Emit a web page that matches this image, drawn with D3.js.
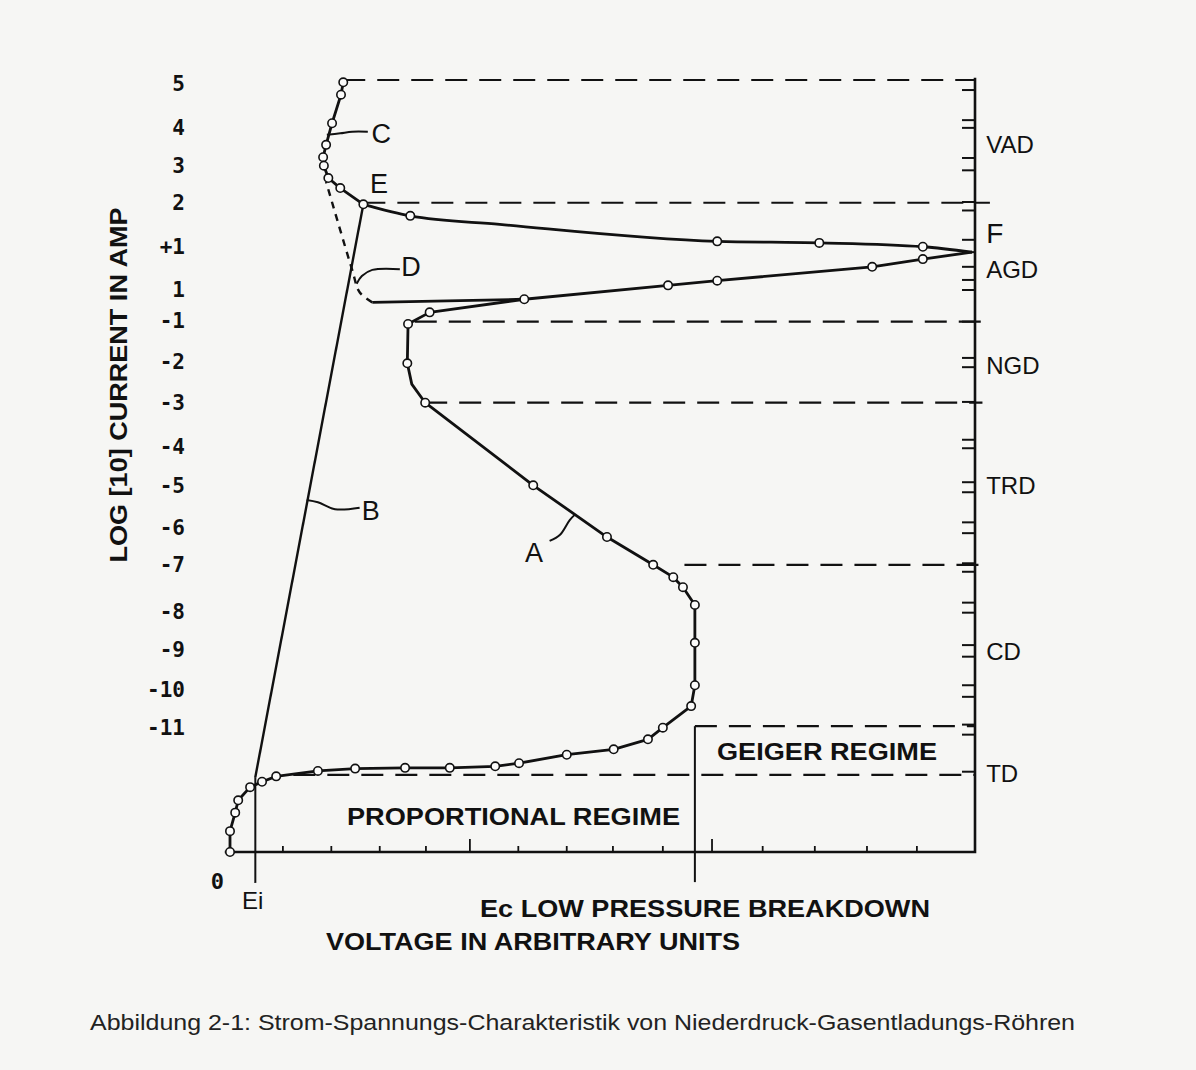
<!DOCTYPE html>
<html>
<head>
<meta charset="utf-8">
<script src="https://cdn.jsdelivr.net/npm/d3@7"></script>
<style>
  body { margin: 0; background: #f6f6f4; }
  svg { display: block; }
  text { font-family: "Liberation Sans", Arial, sans-serif; fill: #111; }
</style>
</head>
<body>
<div id="chart"></div>
<script>
// values in arbitrary units (voltage 0..100, log current level 0..100)

// upper (glow) branch: C -> E -> F
const upperBranch = [
  [15.2, 99.7], [14.9, 98.1], [13.7, 94.4], [12.9, 91.6], [12.5, 90.0],
  [12.6, 88.9], [13.2, 87.3], [14.8, 86.0], [17.9, 83.9], [24.2, 82.4],
  [36.2, 81.3], [65.4, 79.1], [79.1, 78.9], [93.0, 78.4], [99.6, 77.7]
];
const upperPlain = [10, 14];   // indices without a marker
const eIndex = 8;              // point E, where the branch turns right

// return branch F -> NGD -> A -> proportional -> origin
const lowerBranch = [
  [99.6, 77.7], [93.0, 76.8], [86.2, 75.8], [65.4, 74.0], [58.8, 73.4],
  [39.5, 71.6], [26.8, 69.9], [23.9, 68.4], [23.8, 63.3], [24.4, 60.6],
  [26.2, 58.2], [40.7, 47.5], [50.6, 40.8], [56.8, 37.2], [59.5, 35.6],
  [60.8, 34.3], [62.4, 32.0], [62.4, 27.1], [62.4, 21.6], [61.9, 18.9],
  [58.1, 16.1], [56.1, 14.6], [51.5, 13.3], [45.2, 12.6], [38.8, 11.5],
  [35.6, 11.1], [29.5, 10.9], [23.5, 10.9], [16.8, 10.8], [11.8, 10.5],
  [6.2, 9.8], [4.3, 9.1], [2.7, 8.4], [1.1, 6.7], [0.7, 5.1], [0.0, 2.7],
  [0.0, 0.0]
];
const lowerPlain = [0, 9];

// curve D: solid part and dashed part
const dSolid = [[39.5, 71.6], [19.1, 71.2]];
const dDashed = [[19.1, 71.2], [17.4, 72.5], [16.4, 75.4], [12.9, 86.8]];

// line B (E down to Ei)
const bLine = [[17.9, 83.9], [3.4, 9.7]];

// Ei and Ec markers on voltage axis
const eiVoltage = 3.4;
const ecVoltage = 62.4;

// regime boundaries (level, start voltage, end voltage)
const boundaryLevel = [100.0, 84.1, 68.7, 58.2, 37.2, 16.3, 10.0];
const boundaryFrom  = [15.2, 17.9, 24.8, 26.2, 61.0, 62.4, 8.5];
const boundaryTo    = [100, 102, 101, 101, 100.5, 100, 100];

// regime names on the right axis
const regimeNames  = ['VAD', 'F', 'AGD', 'NGD', 'TRD', 'CD', 'TD'];
const regimeLevels = [91.6, 80.2, 75.5, 63.0, 47.5, 26.0, 10.2];

// left tick labels
const yTickLabels = ['5', '4', '3', '2', '+1', '1', '-1', '-2', '-3', '-4', '-5',
                     '-6', '-7', '-8', '-9', '-10', '-11'];
const yTickLevels = [99.5, 93.9, 88.9, 84.1, 78.4, 72.9, 68.9, 63.5, 58.2, 52.5,
                     47.5, 42.1, 37.2, 31.2, 26.3, 21.1, 16.1];

// ticks on the right axis
const rightTicks = [100.0, 98.7, 94.8, 93.8, 89.9, 88.3, 84.2, 83.1, 79.3, 77.7,
  75.8, 74.1, 72.8, 68.7, 64.0, 62.8, 58.3, 53.4, 52.3, 47.9, 46.6, 42.7, 41.3,
  37.4, 36.3, 32.3, 31.0, 26.8, 25.3, 21.6, 20.1, 16.5, 15.2, 10.4];

// ticks on the voltage axis
const xTicks = [7.1, 13.6, 20.1, 26.3, 32.2, 38.7, 45.2, 51.4, 58.1, 64.7,
                71.5, 78.5, 85.5, 92.2];
const xTicksMajor = [32.2, 64.7];

const W = 1196, H = 1070;

const svg = d3.select('#chart').append('svg')
  .attr('width', W).attr('height', H);

svg.append('rect').attr('width', W).attr('height', H).attr('fill', '#f6f6f4');

const x = d3.scaleLinear().domain([0, 100]).range([230, 975]);
const y = d3.scaleLinear().domain([0, 100]).range([852, 80]);

const ink = '#111';
const line = d3.line().x(d => x(d[0])).y(d => y(d[1]));
const smooth = d3.line().x(d => x(d[0])).y(d => y(d[1])).curve(d3.curveCatmullRom.alpha(0.5));
const monoX = d3.line().x(d => x(d[0])).y(d => y(d[1])).curve(d3.curveMonotoneX);

const g = svg.append('g');

// axes
g.append('path')
  .attr('d', line([[-0.7, 0], [100, 0], [100, 100.3]]))
  .attr('fill', 'none').attr('stroke', ink).attr('stroke-width', 2.6);

g.selectAll('.rtick')
  .data(rightTicks)
  .enter().append('line')
  .attr('class', 'rtick')
  .attr('x1', x(100) - 13).attr('x2', x(100))
  .attr('y1', d => y(d)).attr('y2', d => y(d))
  .attr('stroke', ink).attr('stroke-width', 2);

g.selectAll('.xtick')
  .data(xTicks)
  .enter().append('line')
  .attr('class', 'xtick')
  .attr('x1', d => x(d)).attr('x2', d => x(d))
  .attr('y1', y(0))
  .attr('y2', d => y(0) - (xTicksMajor.includes(d) ? 13 : 6))
  .attr('stroke', ink).attr('stroke-width', 1.8);

// Ei, Ec verticals
g.append('path').attr('d', line([[eiVoltage, 9.7], [eiVoltage, -4.0]]))
  .attr('stroke', ink).attr('stroke-width', 2);
g.append('path').attr('d', line([[ecVoltage, 16.3], [ecVoltage, -3.9]]))
  .attr('stroke', ink).attr('stroke-width', 2);

// regime boundaries
g.selectAll('.bound')
  .data(boundaryLevel)
  .enter().append('path')
  .attr('class', 'bound')
  .attr('d', (d, i) => line([[boundaryFrom[i], d], [boundaryTo[i], d]]))
  .attr('fill', 'none').attr('stroke', ink).attr('stroke-width', 2.2)
  .attr('stroke-dasharray', '22,12');

// curves
g.append('path').attr('d', line(bLine))
  .attr('fill', 'none').attr('stroke', ink).attr('stroke-width', 2.4);
g.append('path').attr('d', line(upperBranch.slice(0, eIndex + 1)))
  .attr('fill', 'none').attr('stroke', ink).attr('stroke-width', 2.8)
  .attr('stroke-linejoin', 'round');
g.append('path').attr('d', monoX(upperBranch.slice(eIndex)))
  .attr('fill', 'none').attr('stroke', ink).attr('stroke-width', 2.8);
g.append('path').attr('d', line(lowerBranch))
  .attr('fill', 'none').attr('stroke', ink).attr('stroke-width', 2.8)
  .attr('stroke-linejoin', 'round');
g.append('path').attr('d', line(dSolid))
  .attr('fill', 'none').attr('stroke', ink).attr('stroke-width', 2.8);
g.append('path').attr('d', smooth(dDashed))
  .attr('fill', 'none').attr('stroke', ink).attr('stroke-width', 2.4)
  .attr('stroke-dasharray', '7,6');

// markers
const markers = upperBranch.filter((d, i) => !upperPlain.includes(i))
  .concat(lowerBranch.filter((d, i) => !lowerPlain.includes(i)));
g.selectAll('.dot')
  .data(markers)
  .enter().append('circle')
  .attr('class', 'dot')
  .attr('cx', d => x(d[0])).attr('cy', d => y(d[1]))
  .attr('r', 4.2)
  .attr('fill', '#fbfbfa').attr('stroke', ink).attr('stroke-width', 1.6);

// curve letters with leaders
const leaders = [
  { name: 'C', pts: [[13.0, 92.9], [14.8, 93.1], [16.4, 93.3], [18.5, 93.3]], tx: 19.0, ty: 91.8 },
  { name: 'D', pts: [[17.0, 73.6], [17.7, 74.6], [19.1, 75.4], [22.8, 75.5]], tx: 23.0, ty: 74.6 },
  { name: 'B', pts: [[10.3, 45.6], [11.8, 45.3], [14.1, 44.4], [17.4, 44.6]], tx: 17.7, ty: 43.0 },
  { name: 'A', pts: [[46.3, 43.7], [45.6, 43.0], [44.3, 41.1], [42.9, 40.3]], tx: 39.6, ty: 37.6 }
];
leaders.forEach(l => {
  g.append('path').attr('d', smooth(l.pts))
    .attr('fill', 'none').attr('stroke', ink).attr('stroke-width', 2);
  g.append('text').attr('x', x(l.tx)).attr('y', y(l.ty))
    .attr('font-size', 27).text(l.name);
});
g.append('text').attr('x', x(18.8)).attr('y', y(85.3))
  .attr('font-size', 27).text('E');

// regime names on right axis
g.selectAll('.regime')
  .data(regimeNames)
  .enter().append('text')
  .attr('class', 'regime')
  .attr('x', x(101.5))
  .attr('y', (d, i) => y(regimeLevels[i]))
  .attr('dy', '0.36em')
  .attr('font-size', d => d === 'F' ? 28 : 24)
  .text(d => d);

// left tick labels
g.selectAll('.ylab')
  .data(yTickLabels)
  .enter().append('text')
  .attr('class', 'ylab')
  .attr('x', 185)
  .attr('y', (d, i) => y(yTickLevels[i]))
  .attr('dy', '0.36em')
  .attr('text-anchor', 'end')
  .style('font-family', '"DejaVu Sans Mono", monospace')
  .style('font-weight', 'bold')
  .attr('font-size', 21)
  .text(d => d);

g.append('text').attr('x', 224).attr('y', 889).attr('text-anchor', 'end')
  .style('font-family', '"DejaVu Sans Mono", monospace').style('font-weight', 'bold')
  .attr('font-size', 22).text('0');
g.append('text').attr('x', 242).attr('y', 909).attr('font-size', 24).text('Ei');

// region and axis titles
const boldText = (tx, ty, size, len, str) => g.append('text')
  .attr('x', tx).attr('y', ty).attr('font-size', size)
  .style('font-weight', 'bold')
  .attr('textLength', len).attr('lengthAdjust', 'spacingAndGlyphs')
  .text(str);

boldText(717, 760, 24, 220, 'GEIGER REGIME');
boldText(347, 825, 24, 333, 'PROPORTIONAL REGIME');
boldText(480, 917, 24, 450, 'Ec LOW PRESSURE BREAKDOWN');
boldText(326, 950, 24, 414, 'VOLTAGE IN ARBITRARY UNITS');

g.append('text')
  .attr('transform', 'translate(127,385) rotate(-90)')
  .attr('text-anchor', 'middle')
  .attr('font-size', 24).style('font-weight', 'bold')
  .attr('textLength', 355).attr('lengthAdjust', 'spacingAndGlyphs')
  .text('LOG [10] CURRENT IN AMP');

// caption
svg.append('text')
  .attr('x', 90).attr('y', 1030)
  .attr('font-size', 22)
  .attr('textLength', 985).attr('lengthAdjust', 'spacingAndGlyphs')
  .style('fill', '#222')
  .text('Abbildung 2-1: Strom-Spannungs-Charakteristik von Niederdruck-Gasentladungs-Röhren');
</script>
</body>
</html>
